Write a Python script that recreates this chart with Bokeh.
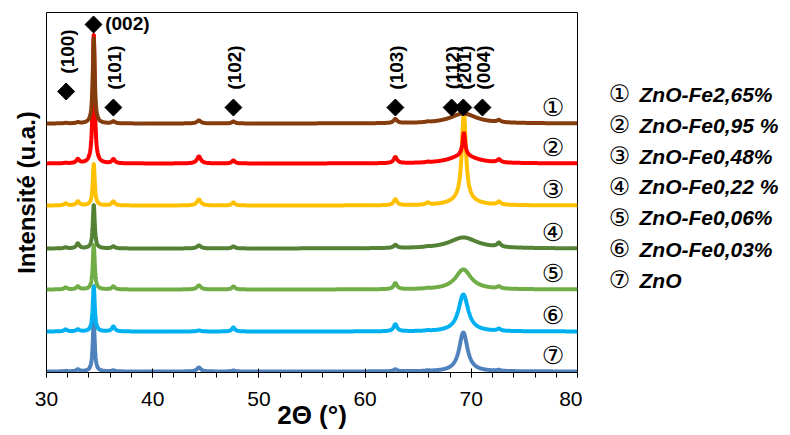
import numpy as np
from bokeh.plotting import figure
from bokeh.layouts import row
from bokeh.models import Range1d, SingleIntervalTicker, FixedTicker
from bokeh.core.properties import value
from bokeh.embed import file_html
from bokeh.resources import INLINE

# ---------------- data ----------------
samples = ["ZnO-Fe2,65%", "ZnO-Fe0,95 %", "ZnO-Fe0,48%", "ZnO-Fe0,22 %",
           "ZnO-Fe0,06%", "ZnO-Fe0,03%", "ZnO"]
circled = ["\u2460", "\u2461", "\u2462", "\u2463", "\u2464", "\u2465", "\u2466"]
colors = ["#843C0C", "#FF0000", "#FFC000", "#548235", "#70AD47", "#00B0F0", "#4F81BD"]
# vertical offset (stacking) of each pattern, a.u.
baselines = [249, 209, 167, 124, 83, 41, 1]

# minor reflections: positions (2θ, °), widths (FWHM, °)
peak_pos = [31.8, 32.95, 34.45, 36.3, 44.35, 47.6, 62.85, 65.9, 72.6]
peak_fwhm = [0.35, 0.35, 0.22, 0.35, 0.45, 0.35, 0.4, 0.4, 0.4]
# heights of those reflections for each sample (a.u.)
h_fe265 = [0.5, 1, 86, 2, 3, 2, 4, 0.5, 2]
h_fe095 = [0.5, 4, 130, 4, 7, 3, 6, 0.5, 3]
h_fe048 = [2, 4, 42, 4, 6, 3, 6, 2, 3]
h_fe022 = [1, 5, 44, 2, 3, 2, 3, 0.5, 4]
h_fe006 = [2, 3, 45, 3, 4, 3, 6, 0.5, 2]
h_fe003 = [2, 2, 46, 5, 1, 4, 7, 0.5, 2]
h_zno = [0.5, 2, 51, 1, 4, 1, 2, 0.5, 1]
heights = [h_fe265, h_fe095, h_fe048, h_fe022, h_fe006, h_fe003, h_zno]

# the 69° region: broad and sharp components
main_pos = 69.25
broad_h = [10, 8, 6, 11, 20, 37, 39]
broad_w = [3.0, 3.0, 2.5, 3.2, 1.8, 1.1, 0.95]
sharp_h = [0, 23, 88, 0, 0, 0, 0]
sharp_w = [0.3, 0.3, 0.45, 0.3, 0.3, 0.3, 0.3]

# indexed reflections
hkl_labels = ["(100)", "(002)", "(101)", "(102)", "(103)", "(112)", "(201)", "(004)"]
hkl_pos = [31.85, 34.43, 36.3, 47.6, 62.85, 68.15, 69.25, 71.05]

x_label = "2\u0398 (\u00b0)"
y_label = "Intensit\u00e9 (u.a.)"

# ---------------- main figure ----------------
p = figure(output_backend="svg", toolbar_location=None,
           frame_width=531, frame_height=360,
           min_border_left=46, min_border_right=5,
           min_border_top=12, min_border_bottom=20,
           x_range=Range1d(30, 80), y_range=Range1d(0, 360))
p.background_fill_color = "white"
p.border_fill_color = "white"
p.outline_line_color = "black"
p.outline_line_width = 1
p.xgrid.visible = False
p.ygrid.visible = False

ax = p.xaxis[0]
ax.ticker = SingleIntervalTicker(interval=10, num_minor_ticks=5)
ax.major_label_text_font = "Liberation Sans"
ax.major_label_text_font_size = "21px"
ax.major_label_text_color = "black"
ax.major_label_standoff = 14
ax.major_tick_in = 4
ax.major_tick_out = 5
ax.minor_tick_in = 0
ax.minor_tick_out = 5
ax.axis_line_color = "black"
ax.major_tick_line_color = "black"
ax.minor_tick_line_color = "black"
ax.axis_label = x_label
ax.axis_label_text_font = "Liberation Sans"
ax.axis_label_text_font_style = "bold"
ax.axis_label_text_font_size = "26px"
ax.axis_label_text_color = "black"
ax.axis_label_standoff = -9

ay = p.yaxis[0]
ay.ticker = FixedTicker(ticks=[])
ay.major_tick_in = 0
ay.major_tick_out = 0
ay.minor_tick_in = 0
ay.minor_tick_out = 0
ay.axis_line_color = None
ay.axis_label = y_label
ay.axis_label_text_font = "Liberation Sans"
ay.axis_label_text_font_style = "bold"
ay.axis_label_text_font_size = "24px"
ay.axis_label_text_color = "black"
ay.axis_label_standoff = 7

tt = np.arange(30.0, 80.0001, 0.02)


def lor(x, c, h, w):
    return h / (1.0 + ((x - c) / (w / 2.0)) ** 2)


# draw from bottom pattern to top pattern
for i in reversed(range(len(samples))):
    y = np.full_like(tt, float(baselines[i]))
    for c, w, h in zip(peak_pos, peak_fwhm, heights[i]):
        y += lor(tt, c, h, w)
    y += lor(tt, main_pos, broad_h[i], broad_w[i])
    y += lor(tt, main_pos + 0.05, sharp_h[i], sharp_w[i])
    p.line(tt, y, line_color=colors[i], line_width=4)

# circled numbers next to each pattern
p.text(x=[77.7] * len(samples), y=[b + 16 for b in baselines], text=circled,
       text_font=value("DejaVu Sans"), text_font_size="25px",
       text_align="center", text_baseline="middle", text_color="black")

# reflection markers
marker_y = [281, 348] + [265] * 6
p.scatter(x=hkl_pos, y=marker_y, marker="square", size=12, angle=np.pi / 4,
          fill_color="black", line_color="black")

rot_idx = [0, 2, 3, 4, 5, 6, 7]
p.text(x=[hkl_pos[k] + (0.15 if k == 0 else 0.1) for k in rot_idx],
       y=[marker_y[k] + 40 for k in rot_idx],
       text=[hkl_labels[k] for k in rot_idx], angle=np.pi / 2,
       text_font=value("Liberation Sans"), text_font_style="bold",
       text_font_size="19px", text_align="center", text_baseline="middle",
       text_color="black")
p.text(x=[hkl_pos[1] + 1.1], y=[marker_y[1] + 1], text=[hkl_labels[1]],
       text_font=value("Liberation Sans"), text_font_style="bold",
       text_font_size="19px", text_align="left", text_baseline="middle",
       text_color="black")

# ---------------- legend panel ----------------
leg = figure(output_backend="svg", toolbar_location=None,
             width=206, height=435, min_border=0,
             x_range=Range1d(0, 206), y_range=Range1d(0, 435))
leg.axis.visible = False
leg.xgrid.visible = False
leg.ygrid.visible = False
leg.outline_line_color = None
leg.background_fill_color = "white"
leg.border_fill_color = "white"

legend_rows = [337, 300, 263, 226, 189, 151, 114]
leg.text(x=[37] * len(samples), y=legend_rows, text=circled,
         text_font=value("DejaVu Sans"), text_font_size="24px",
         text_align="center", text_baseline="middle", text_color="black")
leg.text(x=[57] * len(samples), y=legend_rows, text=samples,
         text_font=value("Liberation Sans"), text_font_style="bold italic",
         text_font_size="21px", text_align="left", text_baseline="middle",
         text_color="black")

layout = row(p, leg)
open("out.html", "w").write(file_html(layout, INLINE))
